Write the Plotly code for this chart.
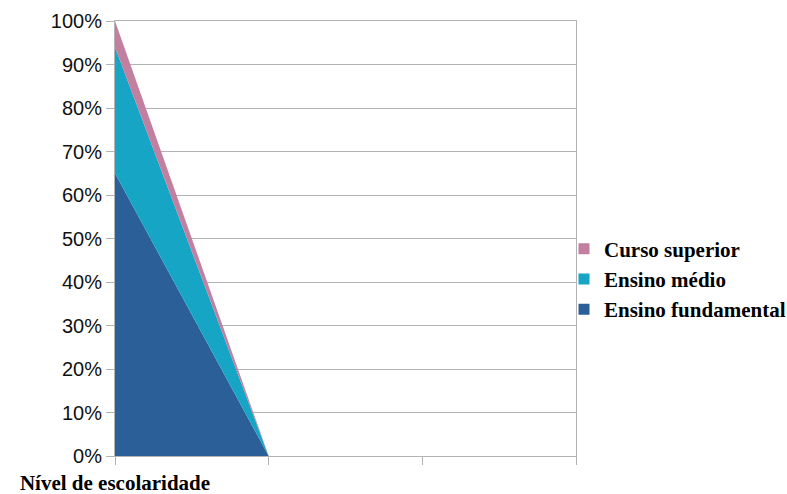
import plotly.graph_objects as go

# Category positions along the x axis (only the first carries a label)
categories = ["Nível de escolaridade", "", "", ""]
x_pos = [0, 1, 2, 3]

# Share of respondents (%) by schooling level, stacked bottom to top
fundamental = [65, 0]
medio = [29, 0]
superior = [6, 0]

series = [
    ("Ensino fundamental", fundamental, "#2a5f98"),
    ("Ensino médio", medio, "#16a5c5"),
    ("Curso superior", superior, "#c27f9f"),
]

y_ticks = list(range(0, 101, 10))
y_labels = [f"{v}%" for v in y_ticks]
grid = "#b3b3b3"

fig = go.Figure()

for name, vals, color in series:
    fig.add_trace(go.Scatter(
        x=x_pos[:len(vals)], y=vals, name=name, mode="none",
        stackgroup="one", fillcolor=color, showlegend=False,
        hoverinfo="skip",
    ))

# Square legend keys
for name, vals, color in series:
    fig.add_trace(go.Scatter(
        x=[None], y=[None], name=name, mode="markers",
        marker=dict(symbol="square", size=11, color=color),
        showlegend=True,
    ))

fig.update_layout(
    width=787, height=494,
    margin=dict(l=115, r=211, t=21, b=38, autoexpand=False),
    paper_bgcolor="white", plot_bgcolor="white",
    legend=dict(
        x=(564 - 115) / 461, xanchor="left",
        y=(456 - 279) / 435, yanchor="middle",
        traceorder="reversed",
        font=dict(family="Liberation Serif", size=21, color="#000000", weight="bold"),
        itemwidth=30,
        bgcolor="rgba(0,0,0,0)",
    ),
    xaxis=dict(
        range=[0, 3],
        tickvals=x_pos, ticktext=categories,
        ticks="outside", ticklen=8, tickcolor=grid, tickwidth=1,
        showgrid=False, zeroline=False,
        showline=True, linecolor=grid, linewidth=1, mirror=True,
        tickfont=dict(family="Liberation Serif", size=21, color="#000000", weight="bold"),
    ),
    yaxis=dict(
        range=[0, 100],
        tickvals=y_ticks, ticktext=y_labels,
        ticks="outside", ticklen=8, tickcolor=grid, tickwidth=1,
        showgrid=True, gridcolor=grid, gridwidth=1, zeroline=False,
        showline=True, linecolor=grid, linewidth=1, mirror=True,
        tickfont=dict(family="Liberation Sans", size=20, color="#111111"),
    ),
)

fig.write_html("out.html")
